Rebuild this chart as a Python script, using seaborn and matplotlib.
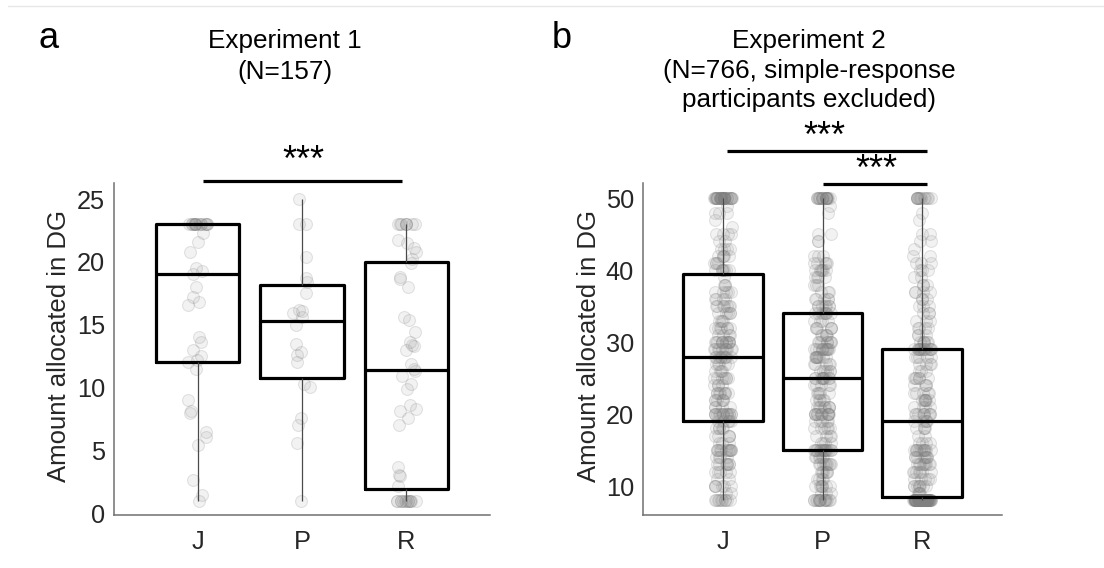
import numpy as np
import pandas as pd
import matplotlib
matplotlib.use("Agg")
import matplotlib.pyplot as plt
from matplotlib.lines import Line2D
import seaborn as sns

conditions = ["J", "P", "R"]

# Experiment 1: individual allocations per condition
exp1_J = [1.0, 1.45, 2.65, 5.4, 6.1, 6.5, 8.0, 8.1, 9.0, 11.5, 12.0, 12.2, 12.5,
          13.0, 13.6, 14.0, 16.6, 16.8, 17.2, 18.0, 19.0, 19.3, 19.5, 20.8, 21.6,
          22.3, 23.0, 23.0, 23.0, 23.0, 23.0, 23.0, 23.0, 23.0, 23.0, 23.0, 23.0,
          23.0, 23.0, 23.0, 23.0]
exp1_P = [1.0, 5.55, 7.0, 7.55, 10.05, 10.3, 12.05, 12.6, 12.8, 13.5, 15.0, 15.6,
          15.9, 16.1, 16.2, 17.5, 18.4, 18.7, 20.4, 23.0, 23.0, 25.0]
exp1_R = [1.0, 1.0, 1.0, 1.0, 1.0, 1.0, 1.0, 1.0, 1.0, 1.0, 1.0, 1.0, 1.0,
          2.2, 3.0, 3.05, 3.7, 7.0, 7.6, 8.1, 8.3, 8.6, 9.9, 10.3, 10.9, 11.3,
          11.5, 11.9, 13.0, 13.3, 13.4, 13.6, 14.4, 15.4, 15.6, 18.0, 18.6, 18.8,
          19.9, 20.2, 20.8, 21.1, 21.5, 21.7, 23.0, 23.0, 23.0, 23.0, 23.0, 23.0,
          23.0, 23.0]

# Experiment 2: allocation levels and number of participants at each level
exp2_levels = [8, 9, 10, 11, 12, 13, 14, 15, 16, 17, 18, 19, 20, 21, 22, 23, 24,
               25, 26, 27, 28, 29, 30, 31, 32, 33, 34, 35, 36, 37, 38, 39, 40, 41,
               42, 43, 44, 45, 46, 47, 48, 49, 50]
exp2_J_counts = [10, 2, 6, 2, 5, 7, 4, 12, 3, 5, 5, 5, 16, 4, 6, 8, 4, 7, 4, 5, 9,
                 10, 12, 4, 7, 4, 5, 7, 4, 5, 3, 1, 7, 4, 5, 4, 2, 4, 1, 1, 3, 1, 32]
exp2_P_counts = [16, 3, 7, 4, 6, 9, 6, 16, 4, 4, 6, 5, 13, 8, 5, 5, 5, 10, 6, 5, 9,
                 12, 8, 5, 6, 4, 8, 7, 5, 3, 3, 4, 6, 5, 3, 0, 2, 2, 0, 0, 1, 1, 19]
exp2_R_counts = [64, 4, 8, 5, 7, 9, 8, 12, 4, 2, 4, 5, 9, 4, 7, 5, 4, 6, 3, 4, 5,
                 14, 6, 3, 4, 3, 3, 3, 3, 4, 3, 2, 3, 3, 2, 1, 2, 2, 0, 1, 1, 0, 13]

exp1_ticks = [0, 5, 10, 15, 20, 25]
exp2_ticks = [10, 20, 30, 40, 50]

W, H = 1104, 568


def fx(px):
    return px / W


def fy(py):
    return 1 - py / H


def long_table(groups):
    rows = []
    for cond, vals in zip(conditions, groups):
        rows += [(cond, v) for v in vals]
    return pd.DataFrame(rows, columns=["condition", "amount"])


exp1 = long_table([exp1_J, exp1_P, exp1_R])
exp2 = long_table([np.repeat(exp2_levels, c) for c in
                   (exp2_J_counts, exp2_P_counts, exp2_R_counts)])

sns.set_style("white")
plt.rcParams["font.family"] = ["Liberation Sans", "DejaVu Sans"]
TXT = "#262626"
SPINE = "#707070"

fig = plt.figure(figsize=(W / 100, H / 100), dpi=100)
ax_a = fig.add_axes([fx(114), fy(515), fx(490) - fx(114), fy(183.3) - fy(515)])
ax_b = fig.add_axes([fx(643), fy(515), fx(1002) - fx(643), fy(183.3) - fy(515)])

np.random.seed(3)


def draw_panel(ax, df, jitter, ylim, ticks):
    sns.stripplot(data=df, x="condition", y="amount", order=conditions,
                  jitter=jitter, size=8.6, color="gray", ax=ax, zorder=1)
    for coll in ax.collections:
        coll.set_facecolor((0.5, 0.5, 0.5, 0.10))
        coll.set_edgecolor((0.5, 0.5, 0.5, 0.20))
        coll.set_linewidth(0.8)
    sns.boxplot(data=df, x="condition", y="amount", order=conditions,
                fill=False, color="black", width=0.8, whis=(0, 100),
                showcaps=False, showfliers=False, linewidth=2.3,
                whiskerprops=dict(color="#4a4a4a", linewidth=0.9),
                medianprops=dict(color="black", linewidth=2.3), ax=ax)
    ax.set_xlim(-0.8, 2.8)
    ax.set_ylim(*ylim)
    ax.set_yticks(ticks)
    ax.set_xlabel("")
    ax.set_ylabel("")
    for side in ("top", "right"):
        ax.spines[side].set_visible(False)
    for side in ("left", "bottom"):
        ax.spines[side].set_color(SPINE)
        ax.spines[side].set_linewidth(1.1)
    ax.tick_params(axis="both", direction="in", length=3, width=0.9,
                   color=SPINE, labelcolor=TXT, labelsize=18.3)
    ax.tick_params(axis="x", pad=10.5)
    ax.tick_params(axis="y", pad=6.5)
    ax.set_facecolor("white")


draw_panel(ax_a, exp1, 0.1, (-0.14, 26.25), exp1_ticks)
draw_panel(ax_b, exp2, 0.09, (5.97, 52.09), exp2_ticks)

# significance bars
bar_kw = dict(color="black", linewidth=2.3, clip_on=False, solid_capstyle="butt")
star_kw = dict(ha="center", va="baseline", fontsize=26, color="black",
               clip_on=False)
ax_a.plot([0.05, 1.96], [26.47, 26.47], **bar_kw)
ax_a.text(1.01, 27.23, "***", **star_kw)
ax_b.plot([0.04, 2.05], [56.6, 56.6], **bar_kw)
ax_b.text(1.02, 57.14, "***", **star_kw)
ax_b.plot([1.0, 2.05], [51.95, 51.95], **bar_kw)
ax_b.text(1.54, 52.59, "***", **star_kw)

# titles
title_kw = dict(ha="center", va="baseline", fontsize=18.8, color="black")
fig.text(fx(285), fy(47.7), "Experiment 1", **title_kw)
fig.text(fx(285), fy(78.5), "(N=157)", **title_kw)
fig.text(fx(809), fy(47.7), "Experiment 2", **title_kw)
fig.text(fx(809), fy(78.3), "(N=766, simple-response", **title_kw)
fig.text(fx(809), fy(107.3), "participants excluded)", **title_kw)

# panel letters
fig.text(fx(38), fy(48), "a", ha="left", va="baseline", fontsize=26, color="black")
fig.text(fx(552), fy(48), "b", ha="left", va="baseline", fontsize=26, color="black")

# y axis labels
ylab_kw = dict(rotation=90, ha="center", va="center", fontsize=18.5, color=TXT)
fig.text(fx(59), fy(346), "Amount allocated in DG", **ylab_kw)
fig.text(fx(589), fy(346), "Amount allocated in DG", **ylab_kw)

# thin rule along the top edge
fig.add_artist(Line2D([fx(8), 1.0], [fy(6), fy(6)], color="#e6e6e6", linewidth=1.0))

fig.savefig("out.png", dpi=100, facecolor="white")
